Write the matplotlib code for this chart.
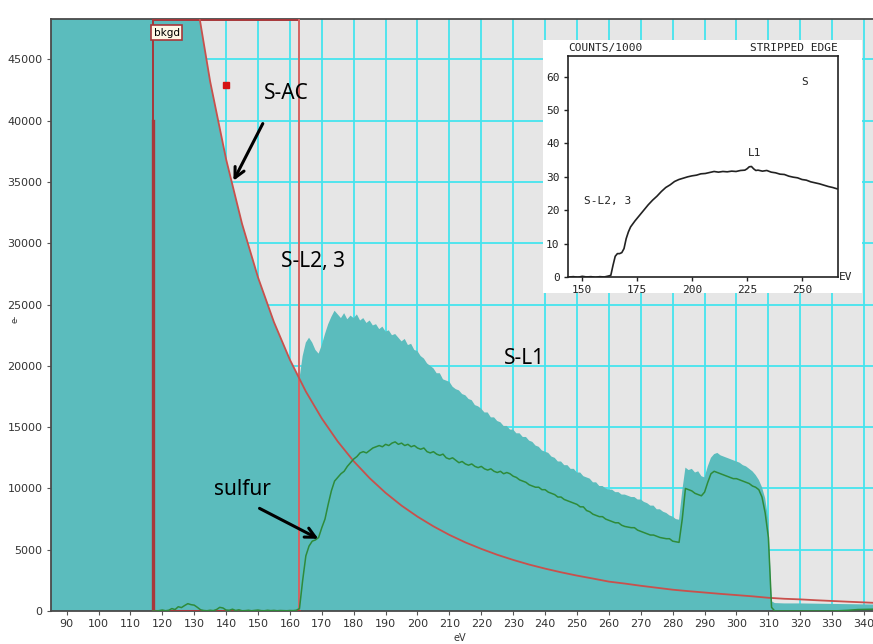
import numpy as np
import matplotlib.pyplot as plt
from matplotlib.patches import Rectangle

# ---- spectrum data (counts vs energy loss, eV) ----
# fitted power-law background (red curve)
bg_ev = [115, 120, 125, 130, 135, 140, 145, 150, 155, 160, 165, 170, 175, 180,
         185, 190, 195, 200, 205, 210, 215, 220, 225, 230, 235, 240, 245, 250,
         255, 260, 265, 270, 275, 280, 285, 290, 295, 300, 305, 310, 315, 320,
         325, 330, 335, 343]
bg_counts = [87400, 72500, 60600, 51000, 43200, 36860, 31590, 27220, 23570, 20500,
             17910, 15710, 13830, 12220, 10840, 9640, 8600, 7700, 6910, 6210,
             5600, 5070, 4590, 4170, 3790, 3460, 3160, 2890, 2650, 2400,
             2240, 2060, 1900, 1740, 1620, 1510, 1400, 1300, 1200, 1080,
             1000, 950, 880, 820, 760, 670]

# raw spectrum: pre-edge part (follows background), edge region at 1 eV, tail
pre_ev = [85, 90, 95, 100, 105, 110, 115, 120, 125, 130, 135, 140, 145, 150, 155, 160, 163]
pre_counts = [200000, 180000, 160000, 140000, 120000, 100000, 87400, 72500, 60600,
              51000, 43200, 36860, 31590, 27220, 23570, 20500, 18950]
edge_ev = list(range(164, 314))
edge_counts = [
    20800, 21900, 22300, 21900, 21300, 21000, 21700, 22600, 23400, 24000,
    24500, 24200, 23900, 24300, 23800, 24100, 23900, 24200, 23700, 23900,
    23500, 23700, 23300, 23400, 23000, 23200, 22800, 22900, 22500, 22600,
    22300, 22000, 22200, 21700, 21800, 21300, 21200, 20800, 20600, 20200,
    20000, 19800, 19400, 19400, 18900, 18800, 18700, 18300, 18100, 18000,
    17700, 17600, 17300, 17200, 16800, 16700, 16500, 16200, 16200, 15800,
    15800, 15500, 15400, 15100, 15100, 14800, 14800, 14500, 14500, 14200,
    14200, 13900, 13800, 13500, 13400, 13100, 13000, 12900, 12600, 12500,
    12200, 12200, 11900, 11900, 11600, 11600, 11300, 11300, 11000, 10900,
    10800, 10500, 10500, 10200, 10200, 10000, 9900, 9900, 9700, 9700,
    9500, 9500, 9400, 9300, 9300, 9100, 9100, 8900, 8800, 8600,
    8600, 8300, 8300, 8100, 8000, 7800, 7700, 7500, 7450, 9800,
    11700, 11500, 11600, 11300, 11400, 11000, 10900, 11800, 12500, 12800,
    12900, 12700, 12600, 12500, 12400, 12300, 12200, 12100, 11900, 11800,
    11600, 11400, 11100, 10700, 10100, 9200, 7400, 800, 650, 640]
tail_ev = [315, 320, 325, 330, 335, 343]
tail_counts = [620, 620, 600, 580, 560, 530]

# background-stripped sulfur signal (green)
sulfur_ev = list(range(117, 314)) + [320, 330, 335, 338, 343]
sulfur_counts = [
    0, 0, 30, 80, 20, 60, 200, 120, 350, 280,
    450, 600, 520, 480, 300, 100, 40, 20, 60, 30,
    120, 300, 250, 80, 60, 150, 40, 100, 20, 30,
    60, 20, 50, 80, 30, 20, 60, 30, 50, 20,
    40, 30, 20, 40, 30, 60, 200, 2500, 4500, 5300,
    5700, 5800, 6000, 6800, 7500, 8700, 9800, 10600, 10900, 11200,
    11400, 11800, 12100, 12400, 12600, 12900, 13000, 12900, 13100, 13300,
    13400, 13500, 13400, 13600, 13500, 13700, 13800, 13600, 13700, 13500,
    13600, 13400, 13500, 13300, 13200, 13300, 13000, 12900, 13000, 12800,
    12700, 12800, 12500, 12400, 12500, 12300, 12100, 12200, 12000, 11900,
    12000, 11800, 11700, 11800, 11600, 11500, 11600, 11400, 11300, 11400,
    11200, 11300, 11200, 11000, 10900, 10700, 10600, 10500, 10300, 10200,
    10100, 10100, 9900, 9900, 9700, 9600, 9500, 9300, 9300, 9100,
    9000, 8900, 8800, 8700, 8500, 8500, 8200, 8100, 7900, 7800,
    7700, 7700, 7500, 7400, 7300, 7200, 7200, 7000, 6900, 6850,
    6800, 6800, 6600, 6500, 6400, 6300, 6200, 6200, 6100, 6000,
    5950, 5900, 5900, 5700, 5650, 5600, 7500, 10000, 9900, 9800,
    9600, 9500, 9400, 9700, 10500, 11200, 11400, 11300, 11200, 11100,
    11000, 10900, 10800, 10800, 10700, 10600, 10500, 10400, 10200, 10100,
    9900, 9300, 8000, 6000, 300, 0, 0,
    0, 0, 60, 120, 150]

# background fit window
win_start, win_end = 117, 163

# inset: stripped edge, counts/1000
inset_ev = [144, 146, 148, 150, 152, 154, 156, 158, 160, 162, 163, 164, 165, 166,
            167, 168, 169, 170, 171, 172, 174, 176, 178, 180, 182, 184, 186, 188,
            190, 192, 194, 196, 198, 200, 202, 204, 206, 208, 210, 212, 214, 216,
            218, 220, 222, 224, 225, 226, 227, 228, 229, 230, 232, 234, 236, 238,
            240, 242, 244, 246, 248, 250, 252, 254, 256, 258, 260, 262, 264, 266]
inset_kcounts = [0.0, 0.1, -0.1, 0.2, 0.0, 0.1, -0.1, 0.1, 0.0, 0.3, 0.5, 3.5, 6.2, 7.0,
                 7.0, 7.3, 8.5, 11.5, 13.5, 15.0, 16.8, 18.4, 20.0, 21.6, 23.0, 24.2, 25.6, 26.8,
                 27.6, 28.6, 29.2, 29.6, 30.0, 30.3, 30.5, 30.9, 31.0, 31.3, 31.6, 31.4, 31.6, 31.5,
                 31.7, 31.6, 31.9, 32.0, 32.4, 33.0, 33.1, 32.4, 31.9, 32.0, 31.7, 31.9, 31.4, 31.2,
                 30.8, 30.7, 30.2, 29.9, 29.7, 29.2, 29.0, 28.5, 28.2, 27.9, 27.5, 27.1, 26.8, 26.4]

TEAL = '#5bbcbd'
GRID = '#45e4ee'
BG_RED = '#c9504c'
BOX_RED = '#a8373a'
TICK_FONT = ['Liberation Sans Narrow', 'DejaVu Sans']
LABEL_FONT = ['Noto Sans', 'DejaVu Sans']

fig = plt.figure(figsize=(8.73, 6.44), dpi=100)
ax = fig.add_axes([0.0584, 0.0512, 0.9416, 0.9193])
ax.set_facecolor('#e6e6e6')

spec_ev = pre_ev + edge_ev + tail_ev
spec_counts = pre_counts + edge_counts + tail_counts
ax.fill_between(spec_ev, spec_counts, 0, color=TEAL, lw=0, zorder=2)

ax.plot(bg_ev, bg_counts, color=BG_RED, lw=1.3, zorder=4)
ax.plot(sulfur_ev, sulfur_counts, color='#2e8b3a', lw=1.1, zorder=5)

# fit window box
ax.add_patch(Rectangle((win_start, 0), win_end - win_start, 48200, fill=False,
                       ec=BOX_RED, lw=1.4, zorder=3))
ax.plot([win_end, win_end], [0, 48300], color='#d86a6a', lw=1.3, zorder=3)
ax.plot([win_start, win_start], [0, 40000], color=BOX_RED, lw=2.4, zorder=3)
ax.plot([win_start, win_end], [0, 0], color=BOX_RED, lw=2.2, zorder=4)
ax.text(win_start + 0.3, 47600, 'bkgd', fontsize=7.5, family=TICK_FONT, va='top', ha='left',
        bbox=dict(boxstyle='square,pad=0.25', fc='#fff8e6', ec=BOX_RED, lw=1.2), zorder=6)
ax.plot([140.1], [42900], marker='s', ms=5, color='#d41414', ls='none', zorder=6)

ax.set_xlim(85.1, 342.8)
ax.set_ylim(0, 48300)
ax.set_xticks(np.arange(90, 341, 10))
ax.set_yticks(np.arange(0, 45001, 5000))
ax.grid(True, color=GRID, lw=1.3)
ax.set_axisbelow(True)
ax.tick_params(length=3, width=0.8, color='#555555', labelcolor='#333333', labelsize=8, pad=3)
for lbl in ax.get_xticklabels() + ax.get_yticklabels():
    lbl.set_family(TICK_FONT)
for s in ['left', 'bottom', 'top']:
    ax.spines[s].set_color('#4a4a4a')
    ax.spines[s].set_linewidth(1.3)
ax.spines['right'].set_visible(False)

fig.text(0.527, 0.002, 'eV', fontsize=7, family=TICK_FONT, ha='center', va='bottom', color='#333333')
fig.text(0.017, 0.505, 'e-', fontsize=6, family=TICK_FONT, rotation=90, ha='center', va='center', color='#333333')

# labels and arrows
ax.text(159.0, 42250, 'S-AC', fontsize=15, family=LABEL_FONT, ha='center', va='center', zorder=7)
ax.annotate('', xy=(141.9, 34900), xytext=(151.9, 39970),
            arrowprops=dict(arrowstyle='->', lw=2.2, color='black', mutation_scale=18), zorder=7)
ax.text(167.3, 28550, 'S-L2, 3', fontsize=15, family=LABEL_FONT, ha='center', va='center', zorder=7)
ax.text(233.6, 20640, 'S-L1', fontsize=15, family=LABEL_FONT, ha='center', va='center', zorder=7)
ax.text(145.0, 9950, 'sulfur', fontsize=15, family=LABEL_FONT, ha='center', va='center', zorder=7)
ax.annotate('', xy=(169.7, 5790), xytext=(149.7, 8480),
            arrowprops=dict(arrowstyle='->', lw=2.2, color='black', mutation_scale=18), zorder=7)

# inset panel
panel = fig.add_axes([0.622, 0.545, 0.3654, 0.393])
panel.set_facecolor('white')
panel.set_xticks([])
panel.set_yticks([])
for s in panel.spines.values():
    s.set_visible(False)
panel.set_zorder(10)

mono = 'DejaVu Sans Mono'
ins = fig.add_axes([0.6506, 0.5699, 0.3093, 0.3432])
ins.set_zorder(11)
ins.plot(inset_ev, inset_kcounts, color='#222222', lw=1.2)
ins.set_xlim(143.5, 266.4)
ins.set_ylim(0, 66.2)
ins.set_xticks([150, 175, 200, 225, 250])
ins.set_yticks(np.arange(0, 61, 10))
ins.tick_params(length=3, width=1, color='#222222', labelsize=8, labelcolor='#222222', pad=3)
for lbl in ins.get_xticklabels() + ins.get_yticklabels():
    lbl.set_family(mono)
for s in ins.spines.values():
    s.set_color('#222222')
    s.set_linewidth(1.2)
ins.text(0.0, 1.015, 'COUNTS/1000', transform=ins.transAxes, family=mono, fontsize=8,
         ha='left', va='bottom', color='#222222')
ins.text(1.0, 1.015, 'STRIPPED EDGE', transform=ins.transAxes, family=mono, fontsize=8,
         ha='right', va='bottom', color='#222222')
ins.text(1.005, 0.0, 'EV', transform=ins.transAxes, family=mono, fontsize=8,
         ha='left', va='center', color='#222222')
ins.text(251, 58.3, 'S', family=mono, fontsize=8, ha='center', va='center', color='#222222')
ins.text(228.5, 37.2, 'L1', family=mono, fontsize=8, ha='center', va='center', color='#222222')
ins.text(161.5, 22.7, 'S-L2, 3', family=mono, fontsize=8, ha='center', va='center', color='#222222')

fig.savefig('out.png', dpi=100, facecolor='white')
